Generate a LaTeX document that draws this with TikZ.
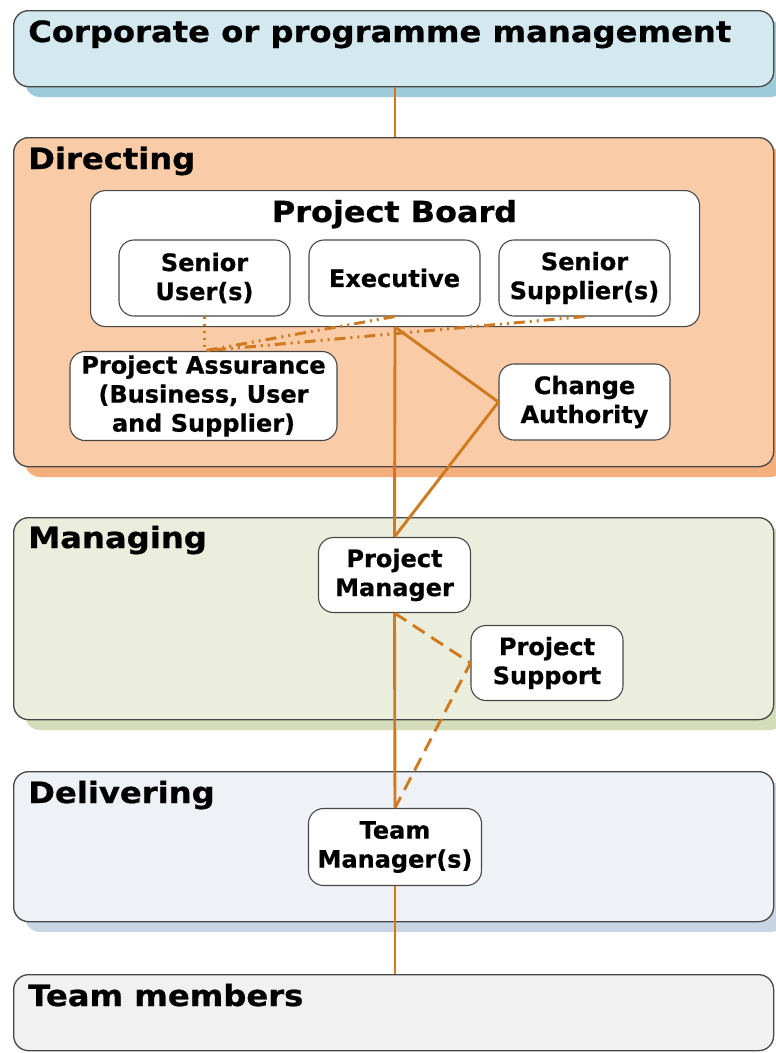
\documentclass[tikz,border=0pt]{standalone}
\usepackage{fontspec}
\setmainfont{DejaVu Sans}
\newfontfamily\bandfont{DejaVu Sans Bold}[FakeStretch=1.1,FakeBold=0.8]
\newfontfamily\boxfont{DejaVu Sans Bold}[FakeBold=0.6]
\definecolor{corpfill}{HTML}{D3E9EF}
\definecolor{corpshadow}{HTML}{9DCBD9}
\definecolor{dirfill}{HTML}{F9CBA7}
\definecolor{dirshadow}{HTML}{F4AF7C}
\definecolor{manfill}{HTML}{EBEEDD}
\definecolor{manshadow}{HTML}{D5DCBA}
\definecolor{delfill}{HTML}{EEF1F6}
\definecolor{delshadow}{HTML}{C7D5E4}
\definecolor{teamfill}{HTML}{F1F1F1}
\definecolor{linkcol}{HTML}{CF7A1F}
\definecolor{edgecol}{HTML}{474747}
\tikzset{
  band/.style={draw=edgecol, line width=1.3pt, rounded corners=15pt},
  bandtitle/.style={anchor=base west, inner sep=0pt, font=\bandfont\fontsize{29.3}{34}\selectfont},
  rolebox/.style={draw=edgecol, line width=1.1pt, fill=white, rounded corners=15pt, inner sep=0pt,
    align=center, font=\boxfont\fontsize{24}{29}\selectfont},
  solidlink/.style={draw=linkcol, line width=2.9pt},
  dashlink/.style={draw=linkcol, line width=2.9pt, dash pattern=on 14pt off 8pt},
  dotlink/.style={draw=linkcol, line width=2.6pt, dash pattern=on 2pt off 5pt},
  dashdotlink/.style={draw=linkcol, line width=3pt, dash pattern=on 11pt off 5pt on 2pt off 5pt on 2pt off 5pt},
}
\begin{document}
\begin{tikzpicture}[x=1pt,y=-1pt]
\clip (0,0) rectangle (776,1053);
\fill[white] (0,0) rectangle (776,1053);
% shadows
\fill[corpshadow, rounded corners=15pt] (25,21) rectangle (785,97);
\fill[dirshadow, rounded corners=15pt] (25,148) rectangle (785,477);
\fill[manshadow, rounded corners=15pt] (25,528) rectangle (785,730);
\fill[delshadow, rounded corners=15pt] (25,782) rectangle (785,932);
% bands
\node[band, fill=corpfill, minimum width=760pt, minimum height=76pt, inner sep=0pt, anchor=north west] (corp) at (13,10) {};
\node[band, fill=dirfill, minimum width=760pt, minimum height=329pt, inner sep=0pt, anchor=north west] (dir) at (13,137) {};
\node[band, fill=manfill, minimum width=760pt, minimum height=202pt, inner sep=0pt, anchor=north west] (man) at (13,517) {};
\node[band, fill=delfill, minimum width=760pt, minimum height=150pt, inner sep=0pt, anchor=north west] (del) at (13,771) {};
\node[band, fill=teamfill, minimum width=760pt, minimum height=76pt, inner sep=0pt, anchor=north west] (team) at (13,974) {};
\node[bandtitle] (corpt) at (28,42) {Corporate or programme management};
\node[bandtitle] (dirt) at (28,169) {Directing};
\node[bandtitle] (mant) at (28,548) {Managing};
\node[bandtitle] (delt) at (28,803) {Delivering};
\node[bandtitle] (teamt) at (28,1006) {Team members};
% boxes
\node[rolebox, minimum width=609pt, minimum height=136pt, anchor=north west] (board) at (90,190) {};
\node[anchor=base, inner sep=0pt, font=\bandfont\fontsize{29}{34}\selectfont] (boardt) at (394.5,222) {Project Board};
\node[rolebox, minimum width=171pt, minimum height=76pt] (su) at (204.5,278) {Senior\\User(s)};
\node[rolebox, minimum width=171pt, minimum height=76pt] (ex) at (394.5,278) {Executive};
\node[rolebox, minimum width=171pt, minimum height=76pt] (ss) at (584.5,278) {Senior\\Supplier(s)};
\node[rolebox, minimum width=267pt, minimum height=89pt] (pa) at (203.5,396) {Project Assurance\\(Business, User\\and Supplier)};
\node[rolebox, minimum width=171pt, minimum height=76pt] (ca) at (584.5,402) {Change\\Authority};
\node[rolebox, minimum width=152pt, minimum height=75pt] (pm) at (394.5,575) {Project\\Manager};
\node[rolebox, minimum width=152pt, minimum height=75pt] (ps) at (547,663) {Project\\Support};
\node[rolebox, minimum width=173pt, minimum height=77pt] (tm) at (395,847) {Team\\Manager(s)};
% connectors
\draw[solidlink] (corp.south -| 395,0) -- (dir.north -| 395,0);
\draw[solidlink] (board.south) -- (pm.north);
\draw[solidlink] (board.south) -- (ca.west) -- (pm.north);
\draw[solidlink] (pm.south) -- (tm.north);
\draw[solidlink] (tm.south) -- (team.north -| tm.south);
\draw[dashlink] (pm.south) -- (ps.west) -- (tm.north);
\draw[dotlink] (su.south) -- (pa.north -| su.south);
\draw[dashdotlink] (ex.south) -- (pa.north);
\draw[dashdotlink] (ss.south) -- (pa.north);
\end{tikzpicture}
\end{document}
